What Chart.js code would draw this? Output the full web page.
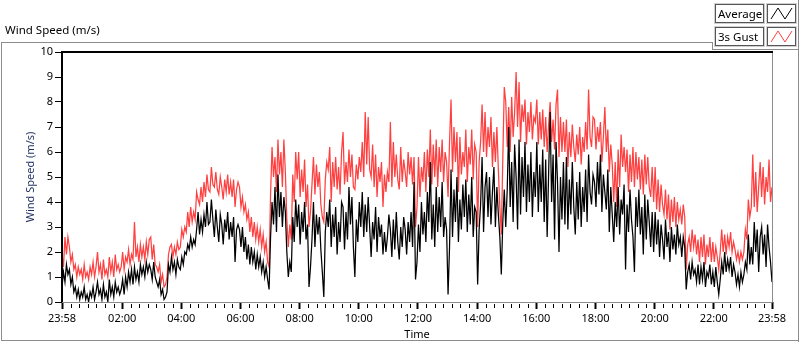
<!DOCTYPE html>
<html>
<head>
<meta charset="utf-8">
<script src="https://cdn.jsdelivr.net/npm/chart.js@4.4.0/dist/chart.umd.min.js"></script>
<style>
  html, body { margin: 0; padding: 0; background: #fff; }
  body { width: 800px; height: 342px; position: relative; overflow: hidden;
         font-family: 'Noto Sans', sans-serif; color: #000; }
  #chartBox { position: absolute; left: 0; top: 0; width: 800px; height: 342px; }
  .ln { position: absolute; background: #8c8c8c; }
  #title { position: absolute; left: 5px; top: 22px; font-size: 11.5px; white-space: nowrap; }
  .lgName { position: absolute; left: 715px; width: 45px; height: 17px; border: 1px solid #555;
            box-shadow: 0 0 0 1px #d0d0d0; font-size: 11.5px; line-height: 17px; padding-left: 2px;
            background: #fff; white-space: nowrap; }
  .lgIcon { position: absolute; left: 767px; width: 27px; height: 17px; border: 1px solid #555;
            box-shadow: 0 0 0 1px #d0d0d0; background: #fff; }
  .lgIcon svg { position: absolute; left: 0; top: 0; }
</style>
</head>
<body>
<div id="chartBox"><canvas id="windChart" width="800" height="342"></canvas></div>

<!-- LabVIEW style frame -->
<div class="ln" style="left:1px;top:42px;width:711px;height:1px;"></div>
<div class="ln" style="left:712px;top:42px;width:1px;height:8px;"></div>
<div class="ln" style="left:712px;top:49px;width:87px;height:1px;"></div>
<div class="ln" style="left:798px;top:0;width:1px;height:342px;"></div>
<div class="ln" style="left:1px;top:42px;width:1px;height:299px;"></div>
<div class="ln" style="left:1px;top:340px;width:798px;height:1px;"></div>

<div id="title">Wind Speed (m/s)</div>

<div class="lgName" style="top:4px;">Average</div>
<div class="lgIcon" style="top:4px;"><svg width="27" height="17"><polyline points="3,14 10,3 17,14 24,3" fill="none" stroke="#000" stroke-width="1"/></svg></div>
<div class="lgName" style="top:27px;">3s Gust</div>
<div class="lgIcon" style="top:27px;"><svg width="27" height="17"><polyline points="3,14 10,3 17,14 24,3" fill="none" stroke="#ff4040" stroke-width="1"/></svg></div>

<script>
/* ══════════════════════════════════
   DATA  (3-minute samples, one row per hour)
══════════════════════════════════ */
const stepHours = 0.05;

const avgSpeed = [
  0.6, 1.2, 0.8, 1.5, 1.1, 1.3, 0.7, 1.0, 0.4, 0.6, 0.2, 0.5, 0.1, 0.4, 0.2, 0.6, 0.1, 0.3, 0.0, 0.4,
  0.2, 0.6, 0.1, 0.4, 0.8, 0.3, 0.5, 0.1, 0.7, 0.2, 0.4, 0.0, 0.9, 0.3, 0.6, 0.2, 0.8, 0.4, 0.6, 0.3,
  0.5, 0.9, 0.3, 1.0, 0.6, 1.2, 0.8, 1.3, 0.7, 1.4, 0.9, 1.2, 0.8, 1.5, 1.1, 1.4, 1.0, 1.6, 1.2, 1.5,
  1.3, 0.9, 1.6, 1.0, 0.8, 0.6, 0.9, 0.3, 0.5, 0.1, 0.2, 0.4, 1.5, 1.2, 1.8, 1.3, 1.6, 1.1, 1.7, 1.4,
  1.3, 1.8, 1.5, 2.0, 1.9, 2.3, 2.1, 2.6, 2.2, 2.5, 2.3, 2.9, 3.6, 2.7, 3.3, 2.8, 3.5, 3.0, 4.0, 3.1,
  3.2, 4.1, 3.3, 2.6, 3.7, 3.0, 2.4, 3.5, 3.1, 2.3, 3.3, 2.8, 3.6, 2.5, 3.2, 2.6, 3.4, 1.6, 2.9, 3.1,
  2.9, 2.2, 3.0, 2.0, 2.6, 1.7, 2.3, 1.5, 2.2, 1.6, 2.0, 1.3, 1.9, 1.4, 1.8, 1.2, 1.6, 1.0, 1.4, 0.9,
  0.5, 2.6, 4.0, 3.1, 4.6, 2.8, 5.1, 3.4, 4.4, 3.0, 4.2, 3.6, 2.0, 1.0, 1.6, 1.2, 3.4, 2.4, 4.1, 3.0,
  3.9, 2.3, 3.6, 2.8, 4.0, 2.5, 3.1, 0.6, 1.4, 2.5, 4.0, 2.2, 3.5, 2.7, 3.4, 2.1, 1.2, 0.2, 2.8, 3.6,
  3.0, 4.1, 2.2, 3.5, 2.6, 3.8, 1.9, 3.2, 2.4, 4.0, 3.8, 2.1, 3.6, 2.5, 4.6, 3.1, 4.2, 2.2, 1.0, 3.3,
  2.4, 4.0, 3.0, 4.4, 2.6, 3.9, 2.8, 4.2, 3.0, 1.8, 3.2, 2.5, 3.8, 2.0, 3.4, 2.6, 3.1, 1.9, 2.8, 2.0,
  2.6, 3.5, 2.9, 1.8, 3.3, 2.1, 3.6, 2.4, 1.7, 3.0, 2.2, 3.4, 2.9, 1.9, 3.2, 2.4, 3.6, 2.2, 4.8, 0.9,
  1.6, 3.1, 2.0, 4.0, 2.7, 3.6, 2.4, 4.4, 3.2, 5.6, 2.5, 3.9, 2.2, 4.6, 2.8, 4.2, 3.0, 4.8, 2.6, 3.4,
  2.9, 0.3, 2.2, 5.3, 2.6, 4.5, 3.2, 5.0, 2.4, 4.1, 2.9, 4.7, 3.4, 4.9, 2.8, 4.3, 3.1, 5.0, 2.6, 3.8,
  3.6, 0.7, 2.9, 3.9, 5.8, 2.8, 4.6, 5.2, 3.4, 5.0, 3.1, 4.4, 5.4, 3.0, 4.6, 3.5, 2.6, 1.1, 3.2, 4.5,
  3.0, 4.5, 7.0, 3.8, 5.6, 3.2, 6.3, 5.0, 2.9, 6.5, 3.5, 5.8, 4.2, 6.4, 3.6, 5.5, 4.0, 6.0, 3.4, 5.2,
  4.2, 6.4, 3.6, 5.5, 4.0, 6.1, 3.2, 5.7, 2.6, 5.2, 7.6, 4.0, 5.9, 2.5, 6.4, 4.8, 2.0, 5.0, 3.3, 5.6,
  3.1, 5.8, 2.9, 4.9, 3.5, 5.6, 3.8, 2.7, 4.8, 3.3, 5.2, 3.0, 4.6, 3.6, 5.3, 3.2, 5.9, 4.4, 3.9, 5.1,
  4.8, 3.8, 5.6, 4.3, 5.9, 3.6, 5.1, 4.4, 3.7, 5.3, 2.8, 4.6, 3.5, 2.4, 4.0, 3.0, 4.6, 2.7, 4.1, 3.5,
  4.7, 1.3, 3.9, 2.8, 4.5, 3.3, 2.6, 1.2, 4.2, 3.0, 4.5, 2.7, 3.8, 1.9, 4.3, 2.5, 4.1, 3.2, 2.2, 3.6,
  2.0, 3.6, 2.3, 3.3, 1.8, 3.1, 2.5, 1.7, 3.3, 2.2, 2.8, 1.6, 3.0, 2.1, 2.7, 1.9, 3.1, 2.3, 2.6, 1.8,
  2.6, 2.2, 0.5, 1.2, 1.5, 0.9, 1.6, 1.1, 1.3, 0.8, 1.5, 0.7, 1.4, 0.9, 1.6, 0.6, 1.2, 1.0, 1.5, 0.7,
  1.2, 0.6, 1.4, 0.8, 0.3, 0.9, 1.6, 1.1, 2.0, 1.2, 1.7, 1.3, 1.8, 1.0, 1.5, 1.2, 0.7, 1.1, 0.6, 1.2,
  0.8, 1.1, 1.6, 1.3, 2.7, 1.5, 2.2, 1.5, 3.2, 2.0, 2.9, 1.2, 2.6, 3.0, 1.9, 2.7, 1.4, 3.1, 2.2, 1.6, 0.8
];

const gustSpeed = [
  1.9, 1.4, 2.6, 1.9, 2.6, 2.2, 1.6, 1.9, 1.3, 1.5, 1.0, 1.4, 1.1, 1.3, 0.9, 1.5, 1.0, 1.2, 0.9, 1.4,
  1.1, 1.6, 1.0, 1.4, 2.0, 1.2, 1.5, 0.9, 1.7, 1.1, 1.3, 1.0, 1.8, 1.2, 1.6, 1.0, 1.9, 1.3, 1.5, 1.2,
  1.4, 2.0, 1.3, 1.8, 1.6, 2.1, 1.5, 1.9, 1.7, 3.2, 1.8, 2.2, 1.6, 2.3, 1.8, 2.2, 1.7, 2.4, 1.9, 2.5,
  2.6, 1.7, 2.3, 1.5, 1.4, 1.2, 1.5, 0.8, 1.1, 0.6, 0.7, 1.0, 1.9, 2.2, 2.3, 1.8, 2.2, 1.9, 2.4, 2.1,
  2.2, 2.9, 2.6, 3.0, 2.8, 3.6, 3.0, 3.8, 3.2, 3.6, 3.3, 4.4, 4.1, 3.9, 4.6, 4.0, 4.8, 4.2, 5.1, 4.5,
  4.4, 5.4, 4.7, 4.6, 5.2, 4.5, 4.3, 5.0, 4.6, 4.1, 4.9, 4.4, 5.1, 4.3, 4.8, 4.2, 4.9, 3.8, 4.5, 4.8,
  4.6, 3.8, 4.2, 3.6, 3.9, 3.3, 3.6, 2.8, 3.4, 2.6, 3.2, 2.5, 3.0, 2.4, 2.9, 2.2, 2.7, 2.0, 2.4, 1.6,
  1.4, 4.3, 6.2, 5.0, 5.8, 4.4, 6.5, 5.1, 6.0, 4.6, 6.5, 5.2, 3.3, 2.2, 3.1, 2.5, 5.1, 4.0, 6.0, 4.9,
  6.0, 4.2, 5.3, 4.4, 5.7, 3.8, 4.7, 3.0, 3.6, 4.7, 5.8, 4.3, 5.5, 4.6, 5.2, 3.9, 3.4, 3.2, 4.9, 5.6,
  5.3, 6.2, 4.0, 5.6, 4.6, 5.8, 4.5, 5.4, 4.3, 6.0, 6.8, 4.7, 5.6, 4.8, 6.1, 5.0, 5.9, 4.6, 4.5, 5.5,
  4.9, 5.8, 5.2, 6.4, 5.0, 7.6, 5.5, 7.4, 5.3, 5.0, 6.3, 4.6, 5.9, 4.2, 5.4, 4.8, 5.6, 3.8, 5.1, 4.4,
  5.2, 4.8, 7.2, 4.6, 6.4, 5.0, 5.9, 4.9, 4.5, 6.2, 4.8, 5.7, 5.2, 4.6, 6.0, 5.1, 5.8, 4.7, 5.8, 3.0,
  3.8, 5.8, 4.2, 5.4, 4.8, 6.0, 4.4, 6.1, 5.0, 6.9, 4.7, 6.3, 5.0, 6.5, 4.6, 6.2, 5.2, 6.5, 4.8, 6.0,
  5.6, 4.2, 6.4, 8.1, 5.2, 7.0, 5.6, 6.8, 4.4, 6.6, 5.1, 6.0, 5.4, 6.9, 4.8, 6.2, 5.5, 6.9, 4.9, 6.3,
  6.0, 3.0, 5.6, 6.4, 7.9, 6.0, 7.6, 5.8, 7.0, 6.2, 7.4, 5.4, 6.8, 5.6, 7.0, 5.3, 3.8, 2.7, 5.7, 8.6,
  8.0, 6.2, 7.8, 6.0, 8.2, 6.6, 7.6, 9.2, 7.0, 8.8, 6.4, 7.9, 7.2, 8.1, 6.3, 7.6, 6.8, 8.0, 6.5, 7.4,
  7.2, 8.1, 6.3, 7.6, 6.5, 7.7, 6.2, 7.4, 6.0, 7.1, 8.0, 6.4, 7.3, 6.1, 7.9, 8.5, 5.8, 7.4, 6.0, 7.2,
  6.0, 7.3, 5.4, 6.8, 5.8, 7.1, 6.2, 5.6, 6.7, 5.9, 7.0, 5.5, 6.6, 6.0, 7.2, 6.1, 8.5, 6.6, 6.2, 7.4,
  7.3, 6.1, 7.0, 6.4, 7.2, 5.6, 6.6, 7.8, 6.0, 6.9, 5.2, 6.3, 5.5, 4.0, 5.6, 3.8, 6.1, 4.6, 6.7, 5.4,
  6.2, 5.2, 6.1, 4.4, 5.9, 4.8, 6.2, 4.6, 6.0, 4.9, 5.8, 4.5, 5.7, 4.3, 5.9, 4.7, 5.8, 4.6, 4.2, 5.4,
  4.0, 5.4, 3.7, 4.9, 3.6, 4.7, 3.9, 3.5, 4.5, 3.3, 4.3, 2.9, 4.1, 3.2, 4.2, 3.0, 4.0, 3.3, 3.7, 3.1,
  3.9, 3.4, 1.3, 2.3, 2.6, 2.0, 2.9, 2.2, 2.7, 1.9, 2.5, 1.6, 2.6, 1.8, 2.7, 1.5, 2.3, 1.8, 2.6, 1.6,
  2.4, 1.6, 2.2, 1.8, 1.3, 2.0, 2.9, 2.0, 2.7, 1.9, 2.6, 2.2, 2.8, 2.0, 2.4, 2.1, 1.7, 2.0, 1.6, 2.0,
  1.7, 2.0, 2.9, 2.5, 4.1, 3.4, 3.8, 5.9, 3.8, 5.2, 3.6, 4.6, 5.6, 4.2, 5.4, 3.9, 5.0, 4.4, 5.7, 4.0, 4.6
];

const tickLabels = ['23:58', '02:00', '04:00', '06:00', '08:00', '10:00', '12:00',
                    '14:00', '16:00', '18:00', '20:00', '22:00', '23:58'];
const minorPerMajor = 6;

/* ══════════════════════════════════
   HELPERS
══════════════════════════════════ */
const startMin = 23 * 60 + 58;
const tickHours = tickLabels.map((t, i) => {
  const [h, m] = t.split(':').map(Number);
  let d = (h * 60 + m - startMin + 1440) % 1440;
  if (i === tickLabels.length - 1) d = 1440;
  return d / 60;
});
const toPoints = arr => arr.map((v, i) => ({ x: i * stepHours, y: v }));

Chart.defaults.font.family = "'Noto Sans', sans-serif";
Chart.defaults.font.size = 11;
Chart.defaults.color = '#000';

// plot frame + short minor ticks on the time axis
const framePlugin = {
  id: 'lvFrame',
  afterDraw(chart) {
    const { ctx, chartArea: a, scales } = chart;
    ctx.save();
    ctx.lineWidth = 1;
    ctx.strokeStyle = '#000';
    const xs = scales.x;
    for (let j = 0; j < tickHours.length - 1; j++) {
      for (let k = 1; k <= minorPerMajor; k++) {
        const v = tickHours[j] + (tickHours[j + 1] - tickHours[j]) * k / (minorPerMajor + 1);
        const px = Math.round(xs.getPixelForValue(v)) + 0.5;
        ctx.beginPath(); ctx.moveTo(px, a.bottom + 2); ctx.lineTo(px, a.bottom + 6); ctx.stroke();
      }
    }
    ctx.strokeStyle = '#8c8c8c';
    ctx.beginPath();
    ctx.moveTo(a.left, a.bottom + 0.5); ctx.lineTo(a.right + 0.5, a.bottom + 0.5);
    ctx.lineTo(a.right + 0.5, a.top);
    ctx.stroke();
    ctx.strokeStyle = '#000';
    ctx.lineWidth = 2;
    ctx.beginPath();
    ctx.moveTo(a.left, a.bottom); ctx.lineTo(a.left, a.top); ctx.lineTo(a.right + 1, a.top);
    ctx.stroke();
    ctx.restore();
  }
};

/* ══════════════════════════════════
   CHART
══════════════════════════════════ */
new Chart(document.getElementById('windChart'), {
  type: 'line',
  data: {
    datasets: [
      { label: 'Average', data: toPoints(avgSpeed), borderColor: '#000', borderWidth: 1.25,
        pointRadius: 0, tension: 0 },
      { label: '3s Gust', data: toPoints(gustSpeed), borderColor: '#ff4040', borderWidth: 1.25,
        pointRadius: 0, tension: 0 }
    ]
  },
  options: {
    responsive: false,
    animation: false,
    devicePixelRatio: 1,
    layout: { padding: { left: 0, top: 52, right: 28, bottom: 0 } },
    plugins: { legend: { display: false }, tooltip: { enabled: false } },
    scales: {
      x: {
        type: 'linear', min: 0, max: 24,
        afterBuildTicks: s => { s.ticks = tickHours.map(v => ({ value: v })); },
        afterFit: s => { s.height = 40; },
        border: { display: false },
        grid: { drawOnChartArea: false, drawTicks: true, tickLength: 7, tickWidth: 2, tickColor: '#000' },
        ticks: { autoSkip: false, maxRotation: 0, padding: 3,
                 callback: (v, i) => tickLabels[i] },
        title: { display: true, text: 'Time', padding: { top: 0, bottom: 1 } }
      },
      y: {
        min: 0, max: 10,
        afterFit: s => { s.width = 62; },
        border: { display: false },
        grid: { drawOnChartArea: false, drawTicks: true, tickLength: 7, tickWidth: 1, tickColor: '#000' },
        ticks: { stepSize: 1, padding: 2 },
        title: { display: true, text: 'Wind Speed (m/s)', color: '#1f2f5f',
                 padding: { top: 24, bottom: 0 } }
      }
    }
  },
  plugins: [framePlugin]
});
</script>
</body>
</html>
